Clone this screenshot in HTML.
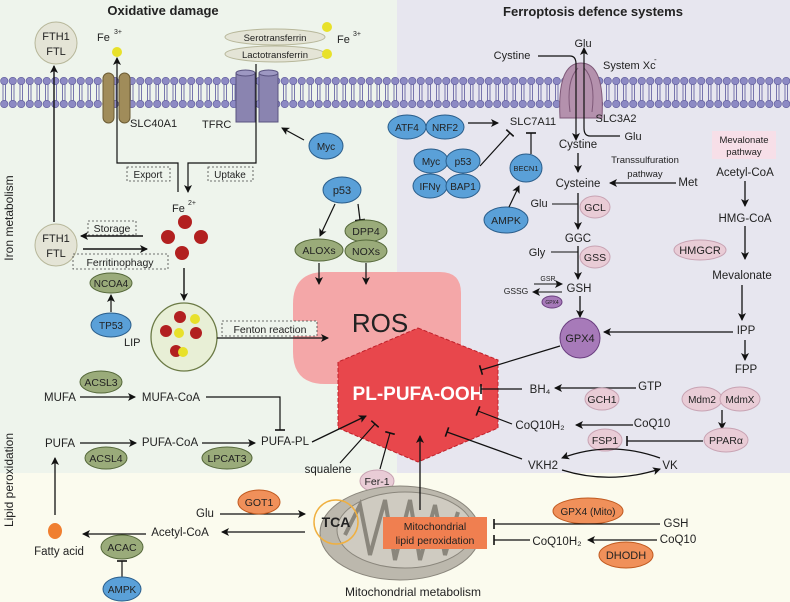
<!DOCTYPE html>
<html><head><meta charset="utf-8"><style>
html,body{margin:0;padding:0;background:#fff}
svg{display:block;font-family:"Liberation Sans",sans-serif}
text{fill:#222}
</style></head><body>
<svg width="790" height="602" viewBox="0 0 790 602" xmlns="http://www.w3.org/2000/svg">
<defs>
<marker id="a" markerWidth="8" markerHeight="8" refX="7" refY="4" orient="auto" markerUnits="userSpaceOnUse"><path d="M0,0 L8,4 L0,8 L2,4 Z" fill="#111"/></marker>
<marker id="t" markerWidth="2" markerHeight="10" refX="1" refY="5" orient="auto" markerUnits="userSpaceOnUse"><path d="M1,0 L1,10" stroke="#111" stroke-width="1.6"/></marker>
<pattern id="mem" x="0" y="77" width="8.5" height="31" patternUnits="userSpaceOnUse">
<line x1="3" y1="7" x2="3" y2="24" stroke="#6a67a6" stroke-width="0.9"/>
<line x1="5.5" y1="7" x2="5.5" y2="24" stroke="#6a67a6" stroke-width="0.9"/>
<circle cx="4.25" cy="4" r="3.7" fill="#8d8ac4" stroke="#5f5b9a" stroke-width="0.6"/>
<circle cx="4.25" cy="27" r="3.7" fill="#8d8ac4" stroke="#5f5b9a" stroke-width="0.6"/>
</pattern>
</defs>
<rect x="0" y="0" width="790" height="602" fill="#fbfbee"/>
<rect x="0" y="0" width="397" height="473" fill="#eef4ec"/>
<rect x="397" y="0" width="393" height="473" fill="#e7e6ef"/>
<rect x="0" y="77" width="790" height="31" fill="url(#mem)"/>

<text x="163" y="15" font-size="13" text-anchor="middle" font-weight="bold">Oxidative damage</text>
<text x="593" y="16" font-size="13" text-anchor="middle" font-weight="bold">Ferroptosis defence systems</text>
<text transform="translate(13,218) rotate(-90)" font-size="12" text-anchor="middle">Iron metabolism</text>
<text transform="translate(13,480) rotate(-90)" font-size="12" text-anchor="middle">Lipid peroxidation</text>

<ellipse cx="56" cy="43" rx="21" ry="21" fill="#e4e4d6" stroke="#b7b79a"/>
<text x="56" y="40" font-size="11" text-anchor="middle">FTH1</text><text x="56" y="55" font-size="11" text-anchor="middle">FTL</text>
<line x1="54" y1="222" x2="54" y2="66" stroke="#111" stroke-width="1.4" marker-end="url(#a)"/>
<ellipse cx="56" cy="245" rx="21" ry="21" fill="#e4e4d6" stroke="#b7b79a"/>
<text x="56" y="242" font-size="11" text-anchor="middle">FTH1</text><text x="56" y="257" font-size="11" text-anchor="middle">FTL</text>
<text x="97" y="41" font-size="11">Fe</text><text x="114" y="34" font-size="7">3+</text>
<circle cx="117" cy="52" r="5" fill="#e8e12a"/>
<rect x="103" y="73" width="11" height="50" rx="5.5" fill="#a08c5a" stroke="#6c5c34"/>
<rect x="119" y="73" width="11" height="50" rx="5.5" fill="#a08c5a" stroke="#6c5c34"/>
<text x="130" y="127" font-size="11">SLC40A1</text>
<rect x="236" y="73" width="19" height="49" fill="#8a84b0" stroke="#5a5480"/>
<ellipse cx="245.5" cy="73" rx="9.5" ry="3" fill="#9d98c2" stroke="#5a5480"/>
<rect x="259" y="73" width="19" height="49" fill="#8a84b0" stroke="#5a5480"/>
<ellipse cx="268.5" cy="73" rx="9.5" ry="3" fill="#9d98c2" stroke="#5a5480"/>
<text x="202" y="128" font-size="11">TFRC</text>
<ellipse cx="275" cy="37" rx="50" ry="8" fill="#e4e4d6" stroke="#b7b79a"/>
<text x="275" y="41" font-size="9.5" text-anchor="middle">Serotransferrin</text>
<ellipse cx="275" cy="54" rx="50" ry="8" fill="#e4e4d6" stroke="#b7b79a"/>
<text x="275" y="58" font-size="9.5" text-anchor="middle">Lactotransferrin</text>
<circle cx="327" cy="27" r="5" fill="#e8e12a"/><circle cx="327" cy="54" r="5" fill="#e8e12a"/>
<text x="337" y="43" font-size="11">Fe</text><text x="353" y="36" font-size="7">3+</text>
<ellipse cx="326" cy="146" rx="17" ry="13" fill="#5aa0d8" stroke="#2a5d8a"/><text x="326" y="150" font-size="10" text-anchor="middle">Myc</text>
<line x1="304" y1="140" x2="282" y2="128" stroke="#111" stroke-width="1.2" marker-end="url(#a)"/>
<path d="M178,192 L178,163 L117,163 L117,58" fill="none" stroke="#111" stroke-width="1.2" marker-end="url(#a)"/>
<path d="M256,64 L256,163 L188,163 L188,192" fill="none" stroke="#111" stroke-width="1.2" marker-end="url(#a)"/>
<rect x="127" y="167" width="43" height="14" fill="none" stroke="#444" stroke-dasharray="2,2" stroke-width="0.8"/><text x="148" y="178" font-size="10" text-anchor="middle">Export</text>
<rect x="208" y="167" width="45" height="14" fill="none" stroke="#444" stroke-dasharray="2,2" stroke-width="0.8"/><text x="230" y="178" font-size="10" text-anchor="middle">Uptake</text>
<text x="172" y="212" font-size="11">Fe</text><text x="188" y="205" font-size="7">2+</text>
<circle cx="185" cy="222" r="7" fill="#b22020"/><circle cx="168" cy="237" r="7" fill="#b22020"/><circle cx="201" cy="237" r="7" fill="#b22020"/><circle cx="182" cy="253" r="7" fill="#b22020"/>
<line x1="143" y1="236" x2="81" y2="236" stroke="#111" stroke-width="1.4" marker-end="url(#a)"/>
<line x1="83" y1="249" x2="147" y2="249" stroke="#111" stroke-width="1.4" marker-end="url(#a)"/>
<rect x="88" y="221" width="48" height="14" fill="none" stroke="#444" stroke-dasharray="2,2" stroke-width="0.8"/><text x="112" y="232" font-size="10.5" text-anchor="middle">Storage</text>
<rect x="73" y="254" width="95" height="15" fill="none" stroke="#444" stroke-dasharray="2,2" stroke-width="0.8"/><text x="120" y="266" font-size="10.5" text-anchor="middle">Ferritinophagy</text>
<ellipse cx="111" cy="283" rx="21" ry="10" fill="#9aab7a" stroke="#55683a"/><text x="111" y="287" font-size="10" text-anchor="middle">NCOA4</text>
<line x1="111" y1="312" x2="111" y2="295" stroke="#111" stroke-width="1.2" marker-end="url(#a)"/>
<ellipse cx="111" cy="325" rx="20" ry="12" fill="#5aa0d8" stroke="#2a5d8a"/><text x="111" y="329" font-size="10" text-anchor="middle">TP53</text>
<line x1="184" y1="268" x2="184" y2="300" stroke="#111" stroke-width="1.4" marker-end="url(#a)"/>
<ellipse cx="184" cy="337" rx="33" ry="34" fill="#e8efd6" stroke="#6b7a45" stroke-width="1.3"/>
<circle cx="180" cy="317" r="6" fill="#b22020"/><circle cx="195" cy="319" r="5" fill="#e8e12a"/>
<circle cx="166" cy="331" r="6" fill="#b22020"/><circle cx="179" cy="333" r="5" fill="#e8e12a"/><circle cx="196" cy="333" r="6" fill="#b22020"/>
<circle cx="176" cy="351" r="6" fill="#b22020"/><circle cx="183" cy="352" r="5" fill="#e8e12a"/>
<text x="124" y="346" font-size="11">LIP</text>
<ellipse cx="342" cy="190" rx="19" ry="13" fill="#5aa0d8" stroke="#2a5d8a"/><text x="342" y="194" font-size="11" text-anchor="middle">p53</text>
<line x1="335" y1="204" x2="320" y2="236" stroke="#111" stroke-width="1.2" marker-end="url(#a)"/>
<line x1="358" y1="204" x2="360" y2="220" stroke="#111" stroke-width="1.2" marker-end="url(#t)"/>
<ellipse cx="319" cy="250" rx="24" ry="11" fill="#9aab7a" stroke="#55683a"/><text x="319" y="254" font-size="10.5" text-anchor="middle">ALOXs</text>
<ellipse cx="366" cy="231" rx="21" ry="11" fill="#9aab7a" stroke="#55683a"/><text x="366" y="235" font-size="10.5" text-anchor="middle">DPP4</text>
<ellipse cx="366" cy="251" rx="21" ry="11" fill="#9aab7a" stroke="#55683a"/><text x="366" y="255" font-size="10.5" text-anchor="middle">NOXs</text>

<!-- ROS and hexagon -->
<path d="M325,272 L440,272 Q461,272 461,293 L461,384 L325,384 Q293,384 293,352 L293,304 Q293,272 325,272 Z" fill="#f4a7a8"/>
<line x1="319" y1="263" x2="319" y2="284" stroke="#111" stroke-width="1.2" marker-end="url(#a)"/>
<line x1="366" y1="263" x2="366" y2="284" stroke="#111" stroke-width="1.2" marker-end="url(#a)"/>
<text x="380" y="332" font-size="26" text-anchor="middle" fill="#111">ROS</text>
<rect x="222" y="321" width="95" height="15" fill="#eef4ec" stroke="#444" stroke-dasharray="2,2" stroke-width="0.8"/><text x="270" y="333" font-size="10.5" text-anchor="middle">Fenton reaction</text>
<line x1="217" y1="338" x2="328" y2="338" stroke="#111" stroke-width="1.2" marker-end="url(#a)"/>
<polygon points="418,328 498,360 498,428 418,462 338,428 338,362" fill="#e8474c" stroke="#c0202a" stroke-dasharray="4,2"/>
<text x="418" y="400" font-size="19" font-weight="bold" text-anchor="middle" style="fill:#fff">PL-PUFA-OOH</text>

<ellipse cx="101" cy="382" rx="21" ry="11" fill="#9aab7a" stroke="#55683a"/><text x="101" y="386" font-size="10.5" text-anchor="middle">ACSL3</text>
<text x="60" y="401" font-size="11.5" text-anchor="middle">MUFA</text>
<line x1="80" y1="397" x2="135" y2="397" stroke="#111" stroke-width="1.3" marker-end="url(#a)"/>
<text x="171" y="401" font-size="11.5" text-anchor="middle">MUFA-CoA</text>
<path d="M206,397 L280,397 L280,430" fill="none" stroke="#111" stroke-width="1.2" marker-end="url(#t)"/>
<text x="60" y="447" font-size="11.5" text-anchor="middle">PUFA</text>
<line x1="80" y1="443" x2="136" y2="443" stroke="#111" stroke-width="1.3" marker-end="url(#a)"/>
<text x="170" y="446" font-size="11.5" text-anchor="middle">PUFA-CoA</text>
<line x1="202" y1="443" x2="255" y2="443" stroke="#111" stroke-width="1.3" marker-end="url(#a)"/>
<text x="285" y="445" font-size="11.5" text-anchor="middle">PUFA-PL</text>
<ellipse cx="106" cy="458" rx="21" ry="11" fill="#9aab7a" stroke="#55683a"/><text x="106" y="462" font-size="10.5" text-anchor="middle">ACSL4</text>
<ellipse cx="227" cy="458" rx="25" ry="11" fill="#9aab7a" stroke="#55683a"/><text x="227" y="462" font-size="10.5" text-anchor="middle">LPCAT3</text>
<line x1="312" y1="442" x2="366" y2="416" stroke="#111" stroke-width="1.3" marker-end="url(#a)"/>
<text x="328" y="473" font-size="11.5" text-anchor="middle">squalene</text>
<line x1="340" y1="463" x2="375" y2="424" stroke="#111" stroke-width="1.2" marker-end="url(#t)"/>
<ellipse cx="377" cy="481" rx="17" ry="11" fill="#e9ccd6" stroke="#c8a3b3"/><text x="377" y="485" font-size="10.5" text-anchor="middle">Fer-1</text>
<line x1="380" y1="469" x2="390" y2="433" stroke="#111" stroke-width="1.2" marker-end="url(#t)"/>

<text x="583" y="47" font-size="11" text-anchor="middle">Glu</text>
<text x="512" y="59" font-size="11" text-anchor="middle">Cystine</text>
<text x="603" y="69" font-size="11">System Xc</text><text x="654" y="62" font-size="8">-</text>
<path d="M560,118 Q557,63 581,63 Q605,63 602,118 Z" fill="#b491ad" stroke="#7e5878"/>
<path d="M570,112 Q566,80 578,68 M592,112 Q596,80 584,68" fill="none" stroke="#7e5878"/>
<path d="M538,56 L570,56 Q576,56 576,64 L576,140" fill="none" stroke="#111" stroke-width="1.2" marker-end="url(#a)"/>
<path d="M620,136 L590,136 Q584,136 584,128 L584,48" fill="none" stroke="#111" stroke-width="1.2" marker-end="url(#a)"/>
<text x="616" y="122" font-size="11" text-anchor="middle">SLC3A2</text>
<text x="633" y="140" font-size="11" text-anchor="middle">Glu</text>
<text x="533" y="125" font-size="11" text-anchor="middle">SLC7A11</text>
<ellipse cx="407" cy="127" rx="19" ry="12" fill="#5aa0d8" stroke="#2a5d8a"/><text x="407" y="131" font-size="10" text-anchor="middle">ATF4</text>
<ellipse cx="445" cy="127" rx="19" ry="12" fill="#5aa0d8" stroke="#2a5d8a"/><text x="445" y="131" font-size="10" text-anchor="middle">NRF2</text>
<line x1="468" y1="123" x2="498" y2="123" stroke="#111" stroke-width="1.3" marker-end="url(#a)"/>
<ellipse cx="431" cy="161" rx="17" ry="12" fill="#5aa0d8" stroke="#2a5d8a"/><text x="431" y="165" font-size="10" text-anchor="middle">Myc</text>
<ellipse cx="463" cy="161" rx="17" ry="12" fill="#5aa0d8" stroke="#2a5d8a"/><text x="463" y="165" font-size="10" text-anchor="middle">p53</text>
<ellipse cx="430" cy="186" rx="17" ry="12" fill="#5aa0d8" stroke="#2a5d8a"/><text x="430" y="190" font-size="10" text-anchor="middle">IFNγ</text>
<ellipse cx="463" cy="186" rx="17" ry="12" fill="#5aa0d8" stroke="#2a5d8a"/><text x="463" y="190" font-size="10" text-anchor="middle">BAP1</text>
<line x1="480" y1="166" x2="510" y2="133" stroke="#111" stroke-width="1.2" marker-end="url(#t)"/>
<ellipse cx="526" cy="168" rx="16" ry="14" fill="#5aa0d8" stroke="#2a5d8a"/><text x="526" y="171" font-size="7.5" text-anchor="middle">BECN1</text>
<line x1="531" y1="154" x2="531" y2="133" stroke="#111" stroke-width="1.2" marker-end="url(#t)"/>
<ellipse cx="506" cy="220" rx="22" ry="13" fill="#5aa0d8" stroke="#2a5d8a"/><text x="506" y="224" font-size="10.5" text-anchor="middle">AMPK</text>
<line x1="509" y1="207" x2="519" y2="186" stroke="#111" stroke-width="1.2" marker-end="url(#a)"/>
<text x="578" y="148" font-size="11.5" text-anchor="middle">Cystine</text>
<line x1="578" y1="153" x2="578" y2="172" stroke="#111" stroke-width="1.3" marker-end="url(#a)"/>
<text x="578" y="187" font-size="11.5" text-anchor="middle">Cysteine</text>
<text x="645" y="163" font-size="9.5" text-anchor="middle">Transsulfuration</text>
<text x="645" y="177" font-size="9.5" text-anchor="middle">pathway</text>
<text x="688" y="186" font-size="11.5" text-anchor="middle">Met</text>
<line x1="676" y1="183" x2="610" y2="183" stroke="#111" stroke-width="1.3" marker-end="url(#a)"/>
<text x="539" y="207" font-size="11" text-anchor="middle">Glu</text>
<line x1="552" y1="204" x2="578" y2="204" stroke="#111" stroke-width="1.1"/>
<ellipse cx="595" cy="207" rx="15" ry="11" fill="#e9ccd6" stroke="#c8a3b3"/><text x="595" y="211" font-size="10.5" text-anchor="middle">GCL</text>
<line x1="578" y1="193" x2="578" y2="229" stroke="#111" stroke-width="1.3" marker-end="url(#a)"/>
<text x="578" y="242" font-size="11.5" text-anchor="middle">GGC</text>
<text x="537" y="256" font-size="11" text-anchor="middle">Gly</text>
<line x1="551" y1="252" x2="578" y2="252" stroke="#111" stroke-width="1.1"/>
<ellipse cx="595" cy="257" rx="15" ry="11" fill="#e9ccd6" stroke="#c8a3b3"/><text x="595" y="261" font-size="10.5" text-anchor="middle">GSS</text>
<line x1="578" y1="246" x2="578" y2="279" stroke="#111" stroke-width="1.3" marker-end="url(#a)"/>
<text x="579" y="292" font-size="11.5" text-anchor="middle">GSH</text>
<text x="516" y="294" font-size="8.5" text-anchor="middle">GSSG</text>
<text x="548" y="281" font-size="7" text-anchor="middle">GSR</text>
<line x1="534" y1="284" x2="562" y2="284" stroke="#111" stroke-width="1.1" marker-end="url(#a)"/>
<line x1="562" y1="292" x2="533" y2="292" stroke="#111" stroke-width="1.1" marker-end="url(#a)"/>
<ellipse cx="552" cy="302" rx="10" ry="6" fill="#a77ab9" stroke="#6b3f80"/><text x="552" y="304" font-size="5" text-anchor="middle">GPX4</text>
<line x1="580" y1="296" x2="580" y2="317" stroke="#111" stroke-width="1.3" marker-end="url(#a)"/>
<circle cx="580" cy="338" r="20" fill="#a77ab9" stroke="#6b3f80"/><text x="580" y="342" font-size="11" text-anchor="middle">GPX4</text>
<line x1="560" y1="346" x2="481" y2="370" stroke="#111" stroke-width="1.2" marker-end="url(#t)"/>

<rect x="712" y="131" width="64" height="28" fill="#f7dfe8"/>
<text x="744" y="143" font-size="9.5" text-anchor="middle">Mevalonate</text>
<text x="744" y="155" font-size="9.5" text-anchor="middle">pathway</text>
<text x="745" y="176" font-size="11.5" text-anchor="middle">Acetyl-CoA</text>
<line x1="745" y1="181" x2="745" y2="206" stroke="#111" stroke-width="1.3" marker-end="url(#a)"/>
<text x="745" y="222" font-size="11.5" text-anchor="middle">HMG-CoA</text>
<line x1="745" y1="226" x2="745" y2="259" stroke="#111" stroke-width="1.3" marker-end="url(#a)"/>
<ellipse cx="700" cy="250" rx="26" ry="10" fill="#e9ccd6" stroke="#c8a3b3"/><text x="700" y="254" font-size="11" text-anchor="middle">HMGCR</text>
<text x="742" y="279" font-size="11.5" text-anchor="middle">Mevalonate</text>
<line x1="742" y1="285" x2="742" y2="320" stroke="#111" stroke-width="1.3" marker-end="url(#a)"/>
<text x="746" y="334" font-size="11.5" text-anchor="middle">IPP</text>
<line x1="733" y1="332" x2="604" y2="332" stroke="#111" stroke-width="1.3" marker-end="url(#a)"/>
<line x1="745" y1="340" x2="745" y2="360" stroke="#111" stroke-width="1.3" marker-end="url(#a)"/>
<text x="746" y="373" font-size="11.5" text-anchor="middle">FPP</text>

<text x="540" y="393" font-size="11.5" text-anchor="middle">BH₄</text>
<line x1="522" y1="389" x2="481" y2="389" stroke="#111" stroke-width="1.2" marker-end="url(#t)"/>
<text x="650" y="390" font-size="11.5" text-anchor="middle">GTP</text>
<line x1="636" y1="388" x2="555" y2="388" stroke="#111" stroke-width="1.3" marker-end="url(#a)"/>
<ellipse cx="602" cy="399" rx="17" ry="11" fill="#e9ccd6" stroke="#c8a3b3"/><text x="602" y="403" font-size="10.5" text-anchor="middle">GCH1</text>
<ellipse cx="702" cy="399" rx="20" ry="12" fill="#e9ccd6" stroke="#c8a3b3"/><text x="702" y="403" font-size="10" text-anchor="middle">Mdm2</text>
<ellipse cx="740" cy="399" rx="20" ry="12" fill="#e9ccd6" stroke="#c8a3b3"/><text x="740" y="403" font-size="10" text-anchor="middle">MdmX</text>
<line x1="722" y1="410" x2="722" y2="429" stroke="#111" stroke-width="1.3" marker-end="url(#a)"/>
<ellipse cx="726" cy="440" rx="22" ry="12" fill="#e9ccd6" stroke="#c8a3b3"/><text x="726" y="444" font-size="10.5" text-anchor="middle">PPARα</text>
<ellipse cx="605" cy="440" rx="17" ry="11" fill="#e9ccd6" stroke="#c8a3b3"/><text x="605" y="444" font-size="10.5" text-anchor="middle">FSP1</text>
<line x1="703" y1="441" x2="627" y2="441" stroke="#111" stroke-width="1.2" marker-end="url(#t)"/>
<text x="540" y="429" font-size="11.5" text-anchor="middle">CoQ10H₂</text>
<text x="652" y="427" font-size="11.5" text-anchor="middle">CoQ10</text>
<line x1="633" y1="425" x2="576" y2="425" stroke="#111" stroke-width="1.3" marker-end="url(#a)"/>
<line x1="512" y1="424" x2="478" y2="411" stroke="#111" stroke-width="1.2" marker-end="url(#t)"/>
<text x="543" y="469" font-size="11.5" text-anchor="middle">VKH2</text>
<text x="670" y="469" font-size="11.5" text-anchor="middle">VK</text>
<path d="M660,458 Q610,440 562,458" fill="none" stroke="#111" stroke-width="1.2" marker-end="url(#a)"/>
<path d="M562,470 Q610,485 660,469" fill="none" stroke="#111" stroke-width="1.2" marker-end="url(#a)"/>
<line x1="522" y1="459" x2="447" y2="432" stroke="#111" stroke-width="1.2" marker-end="url(#t)"/>

<line x1="55" y1="515" x2="55" y2="458" stroke="#111" stroke-width="1.3" marker-end="url(#a)"/>
<ellipse cx="55" cy="531" rx="7" ry="8" fill="#f07f30"/>
<text x="59" y="555" font-size="11.5" text-anchor="middle">Fatty acid</text>
<text x="180" y="536" font-size="11.5" text-anchor="middle">Acetyl-CoA</text>
<line x1="146" y1="534" x2="83" y2="534" stroke="#111" stroke-width="1.3" marker-end="url(#a)"/>
<line x1="305" y1="532" x2="222" y2="532" stroke="#111" stroke-width="1.3" marker-end="url(#a)"/>
<ellipse cx="122" cy="547" rx="21" ry="12" fill="#9aab7a" stroke="#55683a"/><text x="122" y="551" font-size="10.5" text-anchor="middle">ACAC</text>
<line x1="122" y1="577" x2="122" y2="561" stroke="#111" stroke-width="1.2" marker-end="url(#t)"/>
<ellipse cx="122" cy="589" rx="19" ry="12" fill="#5aa0d8" stroke="#2a5d8a"/><text x="122" y="593" font-size="10" text-anchor="middle">AMPK</text>
<text x="205" y="517" font-size="11.5" text-anchor="middle">Glu</text>
<line x1="220" y1="514" x2="305" y2="514" stroke="#111" stroke-width="1.3" marker-end="url(#a)"/>
<ellipse cx="259" cy="502" rx="21" ry="12" fill="#f0905a" stroke="#c05a20"/><text x="259" y="506" font-size="10.5" text-anchor="middle">GOT1</text>
<ellipse cx="400" cy="533" rx="80" ry="47" fill="#bcb8ad" stroke="#8a867c"/>
<ellipse cx="405" cy="530" rx="68" ry="38" fill="#cfcbc1" stroke="#8a867c"/>
<path d="M345,535 L360,505 L370,555 L385,500 L395,560 L410,500 L420,560 L435,505 L445,555 L458,512" fill="none" stroke="#8a867c" stroke-width="4"/>
<circle cx="336" cy="522" r="22" fill="none" stroke="#f0b040" stroke-width="1.5"/>
<text x="336" y="527" font-size="14" font-weight="bold" text-anchor="middle" fill="#111">TCA</text>
<line x1="420" y1="510" x2="420" y2="436" stroke="#111" stroke-width="1.3" marker-end="url(#a)"/>
<rect x="383" y="517" width="104" height="32" fill="#f07f50"/>
<text x="435" y="530" font-size="10.5" text-anchor="middle">Mitochondrial</text>
<text x="435" y="544" font-size="10.5" text-anchor="middle">lipid peroxidation</text>
<ellipse cx="588" cy="511" rx="35" ry="13" fill="#f0905a" stroke="#c05a20"/><text x="588" y="515" font-size="10" text-anchor="middle">GPX4 (Mito)</text>
<text x="676" y="527" font-size="11.5" text-anchor="middle">GSH</text>
<line x1="660" y1="524" x2="494" y2="524" stroke="#111" stroke-width="1.2" marker-end="url(#t)"/>
<text x="678" y="543" font-size="11.5" text-anchor="middle">CoQ10</text>
<line x1="657" y1="540" x2="588" y2="540" stroke="#111" stroke-width="1.3" marker-end="url(#a)"/>
<text x="557" y="545" font-size="11.5" text-anchor="middle">CoQ10H₂</text>
<line x1="530" y1="540" x2="494" y2="540" stroke="#111" stroke-width="1.2" marker-end="url(#t)"/>
<ellipse cx="626" cy="555" rx="27" ry="13" fill="#f0905a" stroke="#c05a20"/><text x="626" y="559" font-size="11" text-anchor="middle">DHODH</text>
<text x="413" y="596" font-size="12" text-anchor="middle">Mitochondrial metabolism</text>
</svg>
</body></html>
